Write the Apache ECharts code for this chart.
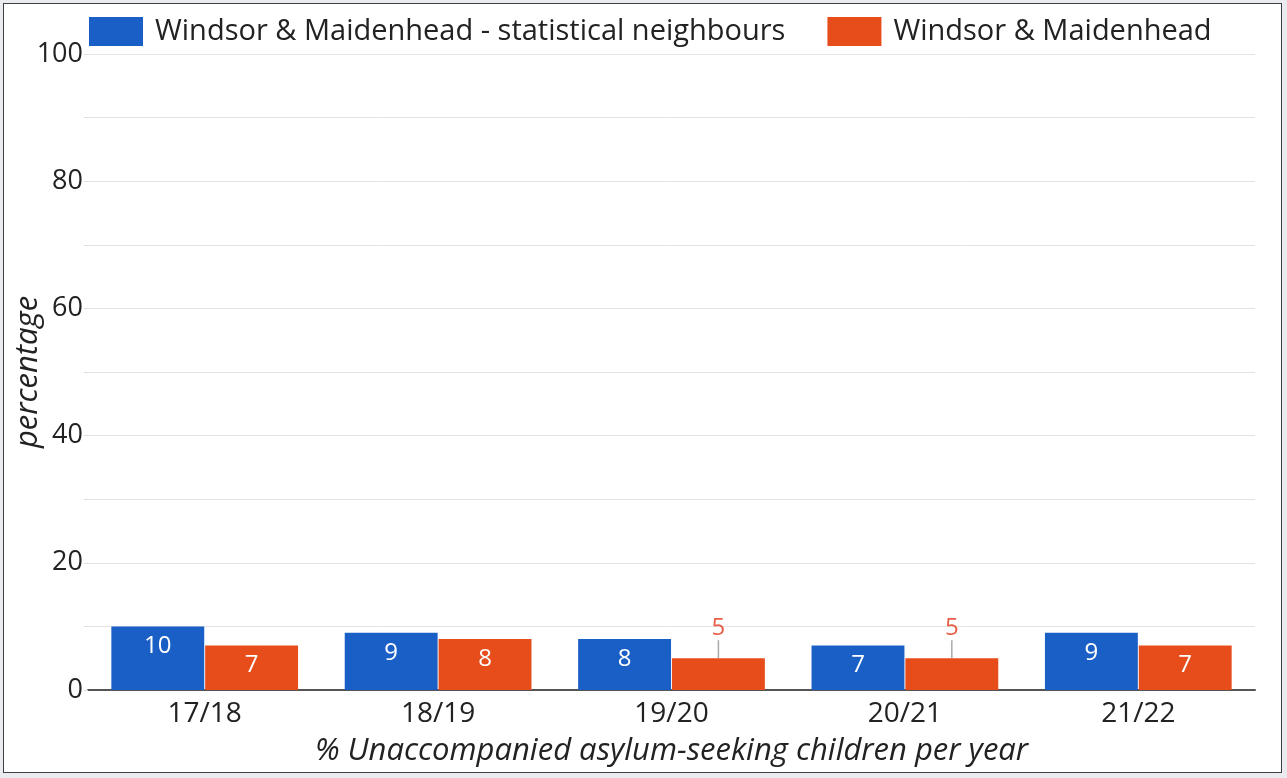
<!DOCTYPE html>
<html>
<head>
<meta charset="utf-8">
<script src="https://cdn.jsdelivr.net/npm/echarts@6/dist/echarts.min.js"></script>
<style>
  html, body { margin: 0; padding: 0; background: #e9ebef; }
  #frame { position: absolute; left: 3px; top: 3px; width: 1277px; height: 768px; border: 1px solid #3a3f48; background: #fff; }
  #chart { width: 100%; height: 100%; }
</style>
</head>
<body>
<div id="frame"><div id="chart"></div></div>
<script>
const categories = ['17/18', '18/19', '19/20', '20/21', '21/22'];
const neighboursName = 'Windsor & Maidenhead - statistical neighbours';
const localName = 'Windsor & Maidenhead';
const neighboursValues = [10, 9, 8, 7, 9];
const localValues = [7, 8, 5, 5, 7];
const yTicks = [0, 20, 40, 60, 80, 100];

const FONT = '"Open Sans", "Noto Sans", sans-serif';
const BLUE = '#1a5fc6';
const ORANGE = '#e64d1a';
const OUT_LABEL = '#e8604a';
const SMALL = 6; // bars below this value carry their label above, with a leader line

function seriesData(values) {
  return values.map(v => v < SMALL
    ? { value: v, label: { position: 'top', distance: 2, color: OUT_LABEL } }
    : { value: v });
}

function liftSmall(values) {
  return params => values[params.dataIndex] < SMALL ? { dy: -16 } : {};
}

const barLabel = { show: true, position: 'insideTop', distance: 8, color: '#fff', fontSize: 24, fontFamily: FONT };
const leader = { show: true, lineStyle: { color: '#aaa', width: 1.5 } };

const chart = echarts.init(document.getElementById('chart'));
chart.setOption({
  animation: false,
  textStyle: { fontFamily: FONT },
  legend: {
    top: 8,
    left: 80,
    icon: 'rect',
    itemWidth: 54,
    itemHeight: 29,
    itemGap: 42,
    textStyle: { fontSize: 29, color: '#222', fontFamily: FONT, padding: [0, 0, 0, 7] },
    data: [neighboursName, localName]
  },
  grid: { left: 84, right: 26, top: 50, bottom: 82, outerBoundsMode: 'none', containLabel: false },
  xAxis: {
    type: 'category',
    data: categories,
    name: '% Unaccompanied asylum-seeking children per year',
    nameLocation: 'middle',
    nameGap: 46,
    nameTextStyle: { fontSize: 31, fontStyle: 'italic', color: '#222', fontFamily: FONT },
    axisLine: { lineStyle: { color: '#555', width: 2 } },
    axisTick: { show: false },
    axisLabel: { fontSize: 28, color: '#222', margin: 10, fontFamily: FONT }
  },
  yAxis: {
    type: 'value',
    min: 0,
    max: 100,
    interval: 10,
    name: 'percentage',
    nameLocation: 'middle',
    nameGap: 44,
    nameMoveOverlap: false,
    nameTextStyle: { fontSize: 31, fontStyle: 'italic', color: '#222', fontFamily: FONT },
    axisLine: { show: false },
    axisTick: { show: true, length: 4, lineStyle: { color: '#ddd' } },
    splitLine: { lineStyle: { color: '#e3e3e3', width: 1 } },
    axisLabel: {
      fontSize: 27, color: '#222', margin: 5, fontFamily: FONT,
      formatter: v => yTicks.includes(v) ? String(v) : ''
    }
  },
  series: [
    {
      name: neighboursName,
      type: 'bar',
      data: seriesData(neighboursValues),
      barGap: '1%',
      barCategoryGap: '20%',
      itemStyle: { color: BLUE },
      label: barLabel,
      labelLine: leader,
      labelLayout: liftSmall(neighboursValues)
    },
    {
      name: localName,
      type: 'bar',
      data: seriesData(localValues),
      itemStyle: { color: ORANGE },
      label: barLabel,
      labelLine: leader,
      labelLayout: liftSmall(localValues)
    }
  ]
});
</script>
</body>
</html>
